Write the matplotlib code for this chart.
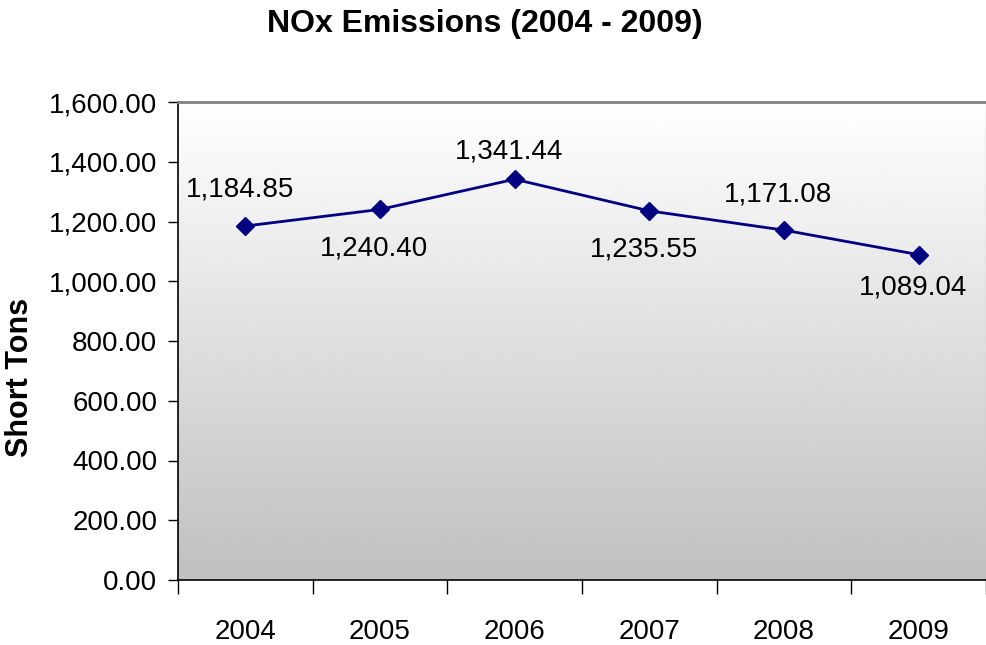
import matplotlib
matplotlib.use("Agg")
import matplotlib.pyplot as plt
import numpy as np

years = ["2004", "2005", "2006", "2007", "2008", "2009"]
values = [1184.85, 1240.40, 1341.44, 1235.55, 1171.08, 1089.04]
labels = ["1,184.85", "1,240.40", "1,341.44", "1,235.55", "1,171.08", "1,089.04"]
yticks = [0, 200, 400, 600, 800, 1000, 1200, 1400, 1600]

# label offsets (points) relative to each marker
label_dy = [26, -28, 20, -28, 26, -24]

plt.rcParams['font.family'] = ['Liberation Sans', 'DejaVu Sans']

fig = plt.figure(figsize=(9.87, 6.45), dpi=100)
ax = fig.add_axes([178/987, 65/645, 808/987, 478/645])

x = np.arange(len(years))
ax.set_xlim(-0.5, len(years) - 0.5)
ax.set_ylim(0, 1600)

# gradient background
grad = np.linspace(1.0, 0.75, 256).reshape(-1, 1)
ax.imshow(grad, cmap='gray', vmin=0, vmax=1, aspect='auto',
          extent=[0, 1, 0, 1], transform=ax.transAxes, zorder=0)

ax.plot(x, values, color='#000080', lw=2, marker='D', markersize=9, zorder=3)

for xi, v, lab, dy in zip(x, values, labels, label_dy):
    ax.annotate(lab, (xi, v), xytext=(-4, dy), textcoords='offset points',
                ha='center', va='center', fontsize=20, color='black')

ax.set_yticks(yticks)
ax.set_yticklabels([f"{t:,.2f}" for t in yticks], fontsize=20)
ax.set_xticks(x)
ax.set_xticklabels(years, fontsize=20)
ax.tick_params(axis='x', length=0, pad=28)
ax.set_xticks(np.arange(-0.5, len(years)), minor=True)
ax.tick_params(axis='x', which='minor', length=10, width=1, direction='out')
ax.tick_params(axis='y', length=7, width=1, direction='out', pad=8)

for s in ['left', 'bottom']:
    ax.spines[s].set_color('black')
    ax.spines[s].set_linewidth(1.2)
ax.spines['top'].set_color('#808080')
ax.spines['top'].set_linewidth(2)
ax.spines['right'].set_color('#c8c8c8')
ax.spines['right'].set_linewidth(1)

ax.set_ylabel("Short Tons", fontsize=22, fontweight='bold')
ax.yaxis.set_label_coords(-(178 - 35) / 808, (580 - 377) / 478)
fig.text(485/987, 1 - 24/645, "NOx Emissions (2004 - 2009)", ha='center', va='center',
         fontsize=23, fontweight='bold')

fig.savefig("out.png", dpi=100)
